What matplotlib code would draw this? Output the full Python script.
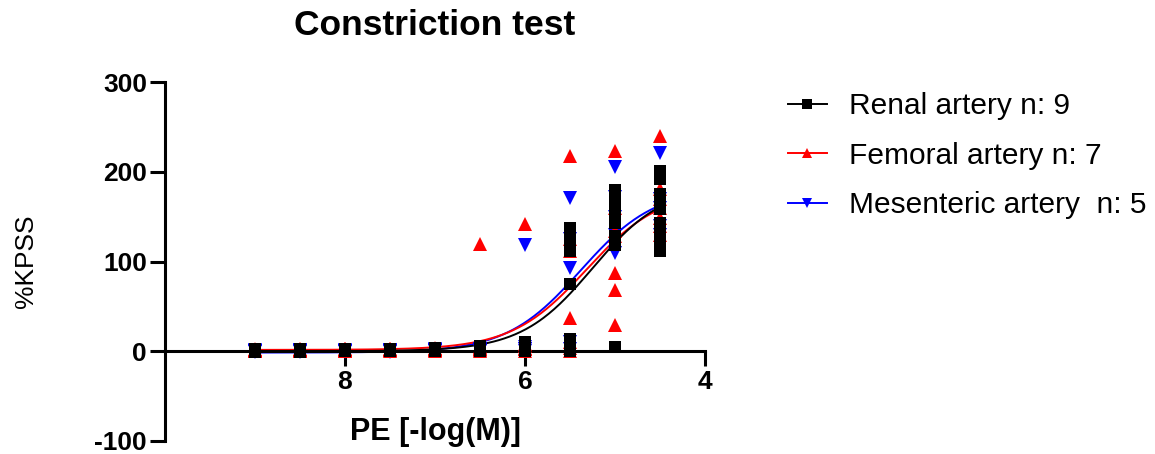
import numpy as np
import matplotlib
matplotlib.use("Agg")
import matplotlib.pyplot as plt

plt.rcParams["font.family"] = ["Liberation Sans", "DejaVu Sans"]
plt.rcParams["axes.unicode_minus"] = False

# PE doses, -log(M)
doses = [9.0, 8.5, 8.0, 7.5, 7.0, 6.5, 6.0, 5.5, 5.0, 4.5]

# %KPSS responses, one list per dose (one value per vessel)
renal = [
    [0, 0, 1, -1, 0, 1, 0, 2, 0],
    [1, 0, 2, 3, 0, 1, -1, 0, 2],
    [1, 0, 2, 0, 1, 2, 0, 1, 3],
    [0, 1, 2, 0, 1, 3, 1, 0, 2],
    [1, 2, 0, 3, 1, 2, 0, 4, 1],
    [2, 4, 0, 5, 1, 3, 6, 2, 0],
    [8, 3, 0, 5, 2, 10, 1, 4, 6],
    [137, 128, 118, 112, 75, 14, 8, 3, 0],
    [180, 172, 165, 158, 143, 128, 118, 5, 150],
    [201, 192, 175, 165, 158, 143, 130, 120, 112],
]
femoral = [
    [0, 1, 0, 2, 1, 0, 1],
    [1, 0, 2, 1, 3, 0, 1],
    [2, 1, 0, 3, 1, 2, 0],
    [1, 2, 0, 3, 1, 2, 1],
    [2, 1, 3, 0, 4, 2, 1],
    [120, 3, 2, 5, 0, 1, 4],
    [142, 6, 2, 8, 0, 3, 4],
    [218, 125, 37, 0, 112, 10, 4],
    [223, 134, 87, 68, 29, 160, 128],
    [240, 181, 149, 160, 170, 140, 130],
]
mesenteric = [
    [0, -1, 0, 1, 0],
    [1, 0, -1, 0, 1],
    [0, 1, 0, -1, 0],
    [1, 0, 0, 1, -1],
    [0, 1, 2, 0, 1],
    [2, 0, 3, 1, 0],
    [118, 3, 0, 5, 2],
    [171, 93, 125, 10, 3],
    [205, 109, 150, 172, 130],
    [221, 170, 160, 140, 130],
]

# four-parameter fit: bottom, top, pEC50, hill slope
renal_fit = [0.0, 185.0, 5.25, 1.1]
femoral_fit = [1.5, 180.0, 5.32, 1.05]
mesenteric_fit = [-1.5, 182.0, 5.38, 1.05]

labels = ["Renal artery n: 9", "Femoral artery n: 7", "Mesenteric artery  n: 5"]
colors = ["black", "#ff0000", "#0000ff"]
markers = ["s", "^", "v"]


def hill(x, bottom, top, pec50, slope):
    return bottom + (top - bottom) / (1 + 10 ** ((x - pec50) * slope))


fig = plt.figure(figsize=(11.55, 4.54), dpi=100)
ax = fig.add_axes([165 / 1155, 13 / 454, 540 / 1155, 359 / 454])

groups = [renal, femoral, mesenteric]
fits = [renal_fit, femoral_fit, mesenteric_fit]
xs = np.linspace(9.0, 4.5, 300)

for fit, c in zip(fits[::-1], colors[::-1]):
    ax.plot(xs, hill(xs, *fit), color=c, lw=1.4, zorder=2)

for grp, c, m, z in zip(groups[::-1], colors[::-1], markers[::-1], [3, 4, 5]):
    px = [d for d, vals in zip(doses, grp) for _ in vals]
    py = [v for vals in grp for v in vals]
    ms = 9 if m == "s" else 9.5
    ax.plot(px, py, ls="none", marker=m, color=c, ms=ms, mew=0, zorder=z)

ax.set_xlim(10, 4)
ax.set_ylim(-100, 300)
ax.set_xticks([8, 6, 4])
ax.set_yticks([-100, 0, 100, 200, 300])

ax.spines["top"].set_visible(False)
ax.spines["right"].set_visible(False)
ax.spines["bottom"].set_position(("data", 0))
for s in ("left", "bottom"):
    ax.spines[s].set_linewidth(2.2)

ax.tick_params(axis="both", direction="out", length=11, width=2.2, labelsize=19)
ax.tick_params(axis="y", pad=2)
ax.tick_params(axis="x", pad=2.5)
for t in ax.get_xticklabels() + ax.get_yticklabels():
    t.set_fontweight("bold")

ax.set_title("Constriction test", fontsize=25.5, fontweight="bold", pad=34)
ax.set_xlabel("PE [-log(M)]", fontsize=22, fontweight="bold")
ax.xaxis.label.set_verticalalignment("baseline")
ax.xaxis.set_label_coords(0.5, 1 / 359)
ax.set_ylabel("%KPSS", fontsize=19)
ax.yaxis.label.set_verticalalignment("center")
ax.yaxis.set_label_coords((26 - 165) / 540, 0.5)

handles = []
for lab, c, m in zip(labels, colors, markers):
    h, = ax.plot([], [], color=c, marker=m, ms=6.5, mew=0, lw=1.4, label=lab)
    handles.append(h)
fig.legend(handles=handles, loc="upper left", bbox_to_anchor=(788 / 1155, 1 - 92 / 454),
           frameon=False, fontsize=21.5, handlelength=1.3, handletextpad=0.75,
           labelspacing=0.72, borderaxespad=0, borderpad=0)

fig.savefig("out.png", dpi=100)
